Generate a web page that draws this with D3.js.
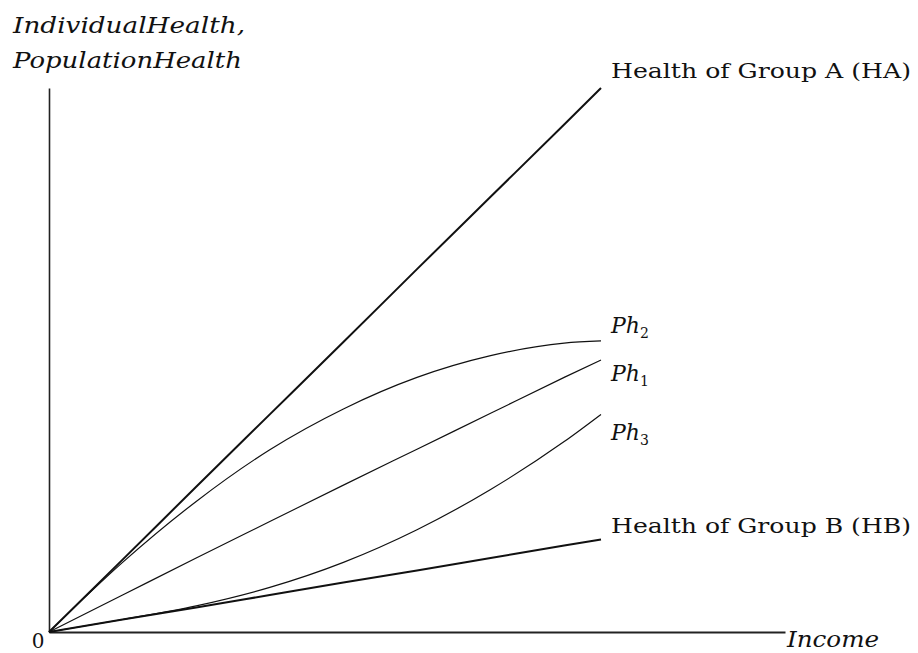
<!DOCTYPE html>
<html>
<head>
<meta charset="utf-8">
<script src="https://cdn.jsdelivr.net/npm/d3@7"></script>
<style>
  body { margin: 0; background: #fff; }
  text { font-family: "DejaVu Serif", "Liberation Serif", serif; fill: #111; }
  .it { font-style: italic; }
  .curve { fill: none; stroke: #111; }
  .axis path { stroke: #222; }
</style>
</head>
<body>
<script>
// income (x) and health (y) in arbitrary units
const income = [0, 10, 20, 30, 40, 50, 60, 70, 75];
const healthA = [0, 13.3, 26.7, 40, 53.3, 66.7, 80, 93.3, 100];
const healthB = [0, 2.3, 4.5, 6.8, 9.1, 11.3, 13.6, 15.9, 17];
const ph1 = [0, 6.8, 13.6, 20.3, 27, 33.6, 40.2, 46.8, 50];
const ph2 = [0, 12.8, 24, 33.5, 41, 46.8, 50.8, 53.1, 53.5];
const ph3 = [0, 2.3, 4.8, 8.2, 12.8, 18.8, 26.2, 35, 40];

const seriesNames = ["HA", "HB", "Ph1", "Ph2", "Ph3"];
const seriesValues = [healthA, healthB, ph1, ph2, ph3];

function init() {
  const dimensions = {
    margin: { top: 88, right: 133, bottom: 21, left: 49 },
    width: 918,
    height: 653,
  }
  const { width, height, margin } = dimensions

  const svg = d3.select("body").append("svg").attr("width", width).attr("height", height);

  const xScale = d3.scaleLinear()
    .domain([0, 100])
    .range([margin.left, width - margin.right]);

  const yScale = d3.scaleLinear()
    .domain([0, 100])
    .range([height - margin.bottom, margin.top]);

  // axes, no ticks
  svg.append("g")
    .attr("class", "axis")
    .attr("transform", `translate(0,${yScale(0)})`)
    .call(d3.axisBottom(xScale).tickValues([]).tickSizeOuter(0))
    .select(".domain").attr("stroke-width", 2);

  svg.append("g")
    .attr("class", "axis")
    .attr("transform", `translate(${xScale(0)},0)`)
    .call(d3.axisLeft(yScale).tickValues([]).tickSizeOuter(0))
    .select(".domain").attr("stroke-width", 1.6).attr("stroke", "#444");

  const lineGenerator = d3.line()
    .x((d, i) => xScale(income[i]))
    .y(d => yScale(d))
    .curve(d3.curveMonotoneX);

  const widths = { HA: 2, HB: 2, Ph1: 1.2, Ph2: 1.2, Ph3: 1.2 };

  svg.append("g")
    .selectAll("path")
    .data(seriesValues)
    .join("path")
    .attr("class", "curve")
    .attr("stroke-width", (d, i) => widths[seriesNames[i]])
    .attr("d", lineGenerator);

  const xEnd = xScale(income[income.length - 1]);

  // labels at the end of each curve
  svg.append("text")
    .attr("x", xEnd + 10).attr("y", 78)
    .attr("font-size", 20)
    .attr("textLength", 300).attr("lengthAdjust", "spacingAndGlyphs")
    .text("Health of Group A (HA)");

  svg.append("text")
    .attr("x", xEnd + 10).attr("y", 533)
    .attr("font-size", 20)
    .attr("textLength", 300).attr("lengthAdjust", "spacingAndGlyphs")
    .text("Health of Group B (HB)");

  const phLabels = [
    { name: "Ph", sub: "2", y: 333 },
    { name: "Ph", sub: "1", y: 381 },
    { name: "Ph", sub: "3", y: 440 },
  ];

  phLabels.forEach(l => {
    const t = svg.append("text")
      .attr("class", "it")
      .attr("x", xEnd + 10).attr("y", l.y)
      .attr("font-size", 22);
    t.append("tspan").text(l.name);
    t.append("tspan").attr("dy", 5).attr("font-size", 14).attr("font-style", "normal").text(l.sub);
  });

  // axis titles
  svg.append("text")
    .attr("class", "it")
    .attr("x", 13).attr("y", 33)
    .attr("font-size", 22)
    .attr("textLength", 232).attr("lengthAdjust", "spacingAndGlyphs")
    .text("IndividualHealth,");

  svg.append("text")
    .attr("class", "it")
    .attr("x", 13).attr("y", 68)
    .attr("font-size", 22)
    .attr("textLength", 229).attr("lengthAdjust", "spacingAndGlyphs")
    .text("PopulationHealth");

  svg.append("text")
    .attr("class", "it")
    .attr("x", xScale(100) + 2).attr("y", 647)
    .attr("font-size", 22)
    .attr("textLength", 92).attr("lengthAdjust", "spacingAndGlyphs")
    .text("Income");

  svg.append("text")
    .attr("x", 38).attr("y", 648)
    .attr("text-anchor", "middle")
    .attr("font-size", 20)
    .text("0");
}

document.addEventListener("DOMContentLoaded", init)
</script>
</body>
</html>
